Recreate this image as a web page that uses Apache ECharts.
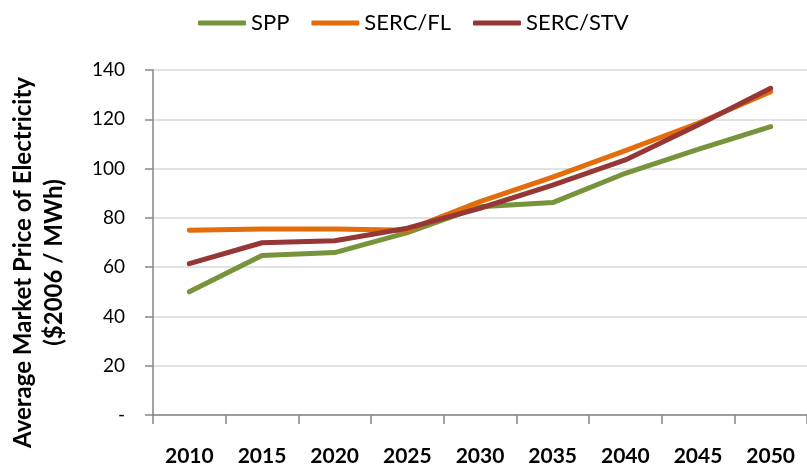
<!DOCTYPE html>
<html>
<head>
<meta charset="utf-8">
<script src="https://cdn.jsdelivr.net/npm/echarts@6/dist/echarts.min.js"></script>
<style>
  html, body { margin: 0; padding: 0; background: #ffffff; }
  #chart { width: 807px; height: 469px; }
</style>
</head>
<body>
<div id="chart"></div>
<script>
// Projected average market price of electricity by region ($2006 / MWh)
const years = ['2010', '2015', '2020', '2025', '2030', '2035', '2040', '2045', '2050'];
const spp = [50.0, 64.7, 65.9, 74.0, 84.5, 86.2, 98.1, 107.8, 117.0];
const sercFL = [75.0, 75.5, 75.5, 75.0, 86.6, 96.5, 107.3, 118.4, 131.2];
const sercSTV = [61.4, 69.9, 70.7, 75.8, 83.9, 93.3, 103.5, 117.7, 132.6];

const seriesNames = ['SPP', 'SERC/FL', 'SERC/STV'];
const seriesColors = ['#77933C', '#E46C0A', '#953735'];
const yTitle = 'Average Market Price of Electricity\n($2006 / MWh)';

const FONT = 'Lato, "Open Sans", sans-serif';
const chart = echarts.init(document.getElementById('chart'), null, { renderer: 'canvas' });

function lineSeries(name, data, color) {
  return {
    name: name,
    type: 'line',
    data: data,
    symbol: 'none',
    smooth: false,
    lineStyle: { color: color, width: 5, cap: 'round', join: 'round' },
    itemStyle: { color: color }
  };
}

chart.setOption({
  animation: false,
  backgroundColor: '#ffffff',
  color: seriesColors,
  legend: {
    data: seriesNames.map(function (n) { return { name: n, icon: 'roundRect' }; }),
    left: 193,
    top: 7,
    itemWidth: 48,
    itemHeight: 5,
    itemGap: 22,
    textStyle: { fontFamily: FONT, fontSize: 22, color: '#000000' }
  },
  grid: { left: 151, right: -9, top: 70, bottom: 54, containLabel: false },
  xAxis: {
    type: 'category',
    data: years,
    boundaryGap: true,
    axisLine: { show: true, lineStyle: { color: '#868686', width: 1.5 } },
    axisTick: { show: true, interval: 0, length: 9, lineStyle: { color: '#868686', width: 1.5 } },
    axisLabel: { interval: 0, margin: 31, fontFamily: FONT, fontSize: 21, fontWeight: 'bold', color: '#000000' },
    splitLine: { show: false }
  },
  yAxis: {
    type: 'value',
    min: 0,
    max: 140,
    interval: 20,
    name: yTitle,
    nameLocation: 'middle',
    nameRotate: 90,
    nameGap: 83,
    nameTextStyle: { fontFamily: FONT, fontSize: 24, fontWeight: 'bold', color: '#000000', lineHeight: 31, padding: [0, 40, 0, 0] },
    axisLine: { show: true, lineStyle: { color: '#868686', width: 1.5 } },
    axisTick: { show: true, length: 8, lineStyle: { color: '#868686', width: 1.5 } },
    axisLabel: {
      margin: 28,
      fontFamily: FONT,
      fontSize: 19,
      color: '#000000',
      formatter: function (v) { return v === 0 ? '-' : String(v); }
    },
    splitLine: { show: true, lineStyle: { color: '#D9D9D9', width: 1.5 } }
  },
  series: [
    lineSeries(seriesNames[0], spp, seriesColors[0]),
    lineSeries(seriesNames[1], sercFL, seriesColors[1]),
    lineSeries(seriesNames[2], sercSTV, seriesColors[2])
  ]
});
</script>
</body>
</html>
